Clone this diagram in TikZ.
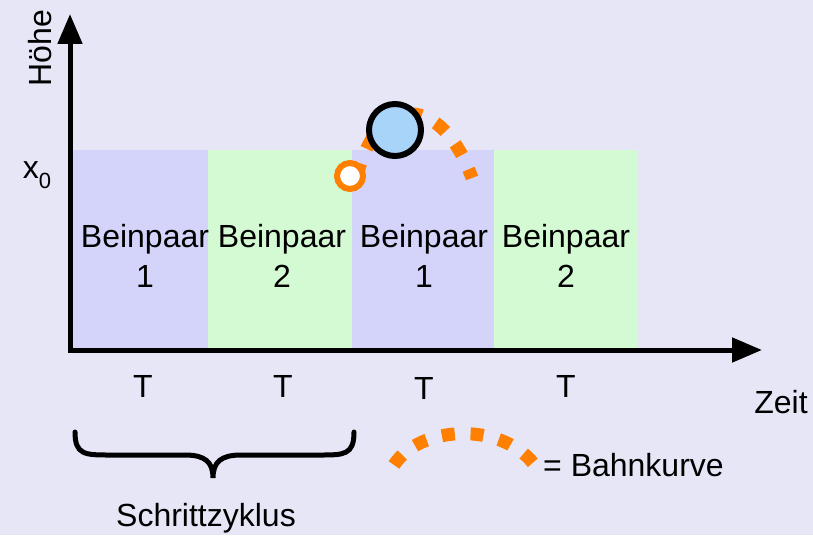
\documentclass[tikz,border=0pt]{standalone}
\usepackage{fontspec}
\setmainfont{Liberation Sans}
\usetikzlibrary{arrows.meta,decorations.pathreplacing}
\definecolor{bgc}{HTML}{E6E6F6}
\definecolor{phaseblue}{HTML}{D4D4FA}
\definecolor{phasegreen}{HTML}{D4FAD4}
\definecolor{ballblue}{HTML}{A8D4FA}
\definecolor{traj}{HTML}{FF8000}
\tikzset{
  axis/.style={line width=5pt,-{Triangle[width=24pt,length=30pt]}},
  lbl/.style={font=\fontsize{32}{36}\selectfont,inner sep=0pt,align=center},
  path/.style={traj,line width=13pt,dash pattern=on 13pt off 15.8pt},
}
\begin{document}
\begin{tikzpicture}[x=1pt,y=-1pt]
  % background and bounding box
  \fill[bgc] (0,0) rectangle (813,535);
  \useasboundingbox (0,0) rectangle (813,535);

  % leg-pair phases
  \fill[phaseblue]  (72,150) rectangle (208,348);
  \fill[phasegreen] (208,150) rectangle (352,348);
  \fill[phaseblue]  (352,150) rectangle (494,348);
  \fill[phasegreen] (494,150) rectangle (637,348);

  \node[lbl] (p1) at (145,256) {Beinpaar\\[4pt]1};
  \node[lbl] (p2) at (282,256) {Beinpaar\\[4pt]2};
  \node[lbl] (p3) at (424,256) {Beinpaar\\[4pt]1};
  \node[lbl] (p4) at (566,256) {Beinpaar\\[4pt]2};

  % axes
  \coordinate (O) at (70,350);
  \coordinate (ytip) at (70,14);
  \coordinate (xtip) at (762,350);
  \draw[axis] (O|-0,352.5) -- (ytip);
  \draw[axis] (67.5,350) -- (xtip);

  \node[lbl,rotate=90] (hoehe) at (40,48) {Höhe};
  \node[lbl] (x0) at (37,175) {x\raisebox{-0.3em}{\fontsize{22}{24}\selectfont 0}};
  \node[lbl] (zeit) at (781,402) {Zeit};

  \node[lbl] (t1) at (143,386) {T};
  \node[lbl] (t2) at (283,386) {T};
  \node[lbl] (t3) at (424,388) {T};
  \node[lbl] (t4) at (566,386) {T};

  % step cycle brace
  \coordinate (bl) at (75,432);
  \coordinate (br) at (354,432);
  \coordinate (bm) at (213,478);
  \draw[line width=5pt,line cap=round]
    (bl) .. controls (75,455) and (85,455) .. (110,455)
    -- (185,455) .. controls (205,455) and (213,462) .. (bm)
    .. controls (213,462) and (221,455) .. (241,455)
    -- (320,455) .. controls (344,455) and (354,455) .. (br);
  \node[lbl] (zyklus) at (206,518) {Schrittzyklus};

  % trajectory of the body
  \coordinate (tstart) at (358,172);
  \coordinate (tend) at (472,178);
  \draw[path,dash phase=4pt] (tstart) .. controls (380,92) and (442,95) .. (tend);
  \node[circle,draw=traj,fill=white,line width=6pt,minimum size=26pt,inner sep=0pt] (foot) at (350,176) {};
  \node[circle,draw=black,fill=ballblue,line width=6pt,minimum size=52pt,inner sep=0pt] (ball) at (395,130) {};

  % legend
  \coordinate (lstart) at (394,465);
  \coordinate (lend) at (533,463);
  \draw[path] (lstart) .. controls (420,425) and (500,422) .. (lend);
  \node[lbl,anchor=west] (legend) at (543,465) {= Bahnkurve};
\end{tikzpicture}
\end{document}
